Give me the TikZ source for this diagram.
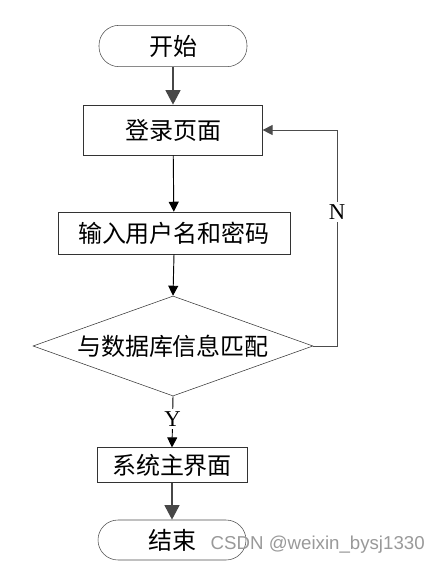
\documentclass[tikz,border=0pt]{standalone}
\usepackage{fontspec}
\setmainfont{Liberation Serif}
\newfontfamily\cjk{Noto Sans CJK SC}
\newfontfamily\wmfont{Liberation Sans}
\usetikzlibrary{arrows.meta, shapes.geometric}
\colorlet{mygray}{black!72}

\begin{document}
\begin{tikzpicture}[x=0.75pt, y=-0.75pt, >=Latex, font=\fontsize{18}{21}\selectfont\cjk,
    terminal/.style={draw=black!70, thin, rounded corners=15pt, minimum width=111pt, minimum height=31pt, inner sep=0pt},
    procbox/.style={draw=black!80, thin, rectangle, inner sep=0pt},
    decision/.style={draw=black!80, thin, diamond, aspect=2.8, inner sep=0pt, minimum width=210pt, minimum height=75pt},
    thickarrow/.style={-{Triangle[width=11pt,length=11pt]}, mygray, line width=2pt},
    thinarrow/.style={-{Triangle[width=7.5pt,length=7.5pt]}, black, line width=0.7pt},
    lbl/.style={font=\fontsize{17}{20}\selectfont\rmfamily, fill=white, inner sep=2pt}]

    \useasboundingbox (0,0) rectangle (442,565);

    % ===== NODES =====
    \node[terminal] (start) at (173,46) {开始};
    \node[procbox, minimum width=134pt, minimum height=37.5pt] (login) at (173,130) {登录页面};
    \node[procbox, minimum width=174pt, minimum height=31.5pt] (input) at (174,233) {输入用户名和密码};
    \node[decision] (check) at (173,346) {与数据库信息匹配};
    \node[procbox, minimum width=112.5pt, minimum height=26pt] (mainui) at (172,465) {系统主界面};
    \node[terminal, minimum height=30pt] (finish) at (172,540) {结束};
    \coordinate (loopr) at (337,346);

    % ===== CONNECTORS =====
    \draw[thickarrow] (start) -- (login);
    \draw[thinarrow] (login) -- (input);
    \draw[thinarrow] (input.south) -- (check.north);
    \draw[thinarrow] (check.south) -- node[lbl, pos=0.45] {Y} (mainui.north);
    \draw[thickarrow] (mainui) -- (finish);
    % no match: back to login
    \draw[thinarrow, draw=black!70] (check.east) -- (loopr) |- node[lbl, pos=0.31] {N} (login.east);

    % watermark
    \node[font=\fontsize{14}{16}\selectfont\wmfont, text=black!40, anchor=west] (mark) at (206,545) {CSDN @weixin\_bysj1330};

\end{tikzpicture}
\end{document}
